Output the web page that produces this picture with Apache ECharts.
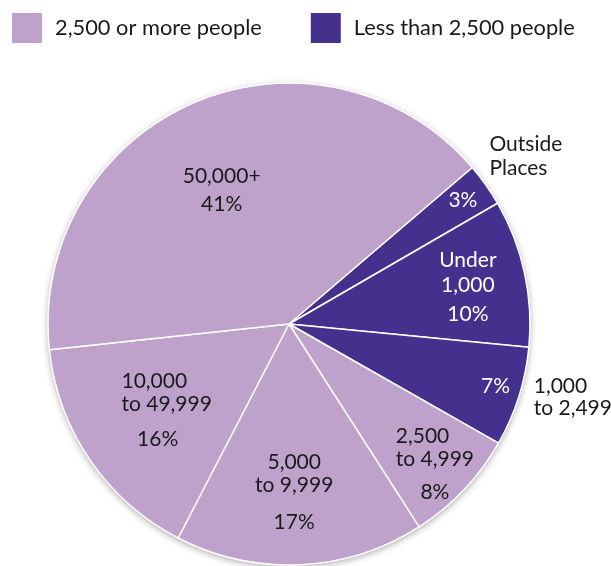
<!DOCTYPE html>
<html>
<head>
<meta charset="utf-8">
<script src="https://cdn.jsdelivr.net/npm/echarts@6/dist/echarts.min.js"></script>
<style>
html,body{margin:0;padding:0;background:#fff;}
#chart{width:611px;height:566px;}
</style>
</head>
<body>
<div id="chart"></div>
<script>
// ---- data ----
const categories = ['Outside Places', 'Under 1,000', '1,000 to 2,499', '2,500 to 4,999', '5,000 to 9,999', '10,000 to 49,999', '50,000+'];
const shares = [2.9, 9.9, 6.7, 7.7, 16.7, 15.7, 40.5];
const percentLabels = ['3%', '10%', '7%', '8%', '17%', '16%', '41%'];
const groupOf = [1, 1, 1, 0, 0, 0, 0];
const legendNames = ['2,500 or more people', 'Less than 2,500 people'];
const innerNameLines = [[], ['Under', '1,000'], [], ['2,500', 'to 4,999'], ['5,000', 'to 9,999'], ['10,000', 'to 49,999'], ['50,000+']];
const outerNameLines = [['Outside', 'Places'], [], ['1,000', 'to 2,499'], [], [], [], []];

// ---- layout / style ----
const groupColors = ['#BEA2CC', '#46308E'];
const textColorOn = ['#1a1a1a', '#ffffff'];
const CX = 289, CY = 324, R = 241;
const START = 40.5;
const FONT = 'Lato';
const LABEL_SIZE = 21;
// inner label anchor: [angle deg, radius fraction], name line height, percent line height, name align, percent right padding
const innerSpec = [
  [35.5, 0.874, 23, 23, 'center', 0],
  [11.15, 0.744, 25, 32, 'center', 0],
  [-16.88, 0.883, 23, 23, 'center', 0],
  [-44.94, 0.843, 23, 44, 'left', 0],
  [-88.3, 0.716, 23, 52, 'center', 0],
  [-143.13, 0.622, 23, 47, 'left', 18],
  [117.15, 0.600, 23, 33, 'center', 0]
];
const outerSpec = [
  [35.3, 1.192, 24],
  null,
  [-14.5, 1.204, 22],
  null, null, null, null
];

const total = shares.reduce((a, b) => a + b, 0);
const cum = [];
shares.reduce((acc, v, i) => { cum[i] = acc; return acc + v; }, 0);
const midAngle = i => START - 360 * (cum[i] + shares[i] / 2) / total;

const mainData = categories.map((c, i) => ({
  name: c,
  value: shares[i],
  itemStyle: { color: groupColors[groupOf[i]] }
}));

function overlaySeries(i, angle, frac, formatter, rich, color) {
  return {
    type: 'pie',
    silent: true,
    z: 5,
    center: [CX, CY],
    radius: [0, 2 * frac * R],
    startAngle: START + (angle - midAngle(i)),
    clockwise: true,
    avoidLabelOverlap: false,
    emphasis: { disabled: true },
    itemStyle: { color: 'rgba(0,0,0,0)', borderWidth: 0 },
    labelLine: { show: false },
    data: categories.map((c, j) => ({
      name: c,
      value: shares[j],
      label: j === i ? {
        show: true,
        position: 'inside',
        formatter: formatter,
        color: color,
        fontFamily: FONT,
        fontSize: LABEL_SIZE,
        rich: rich
      } : { show: false }
    }))
  };
}

const series = [];
// soft shadow behind the pie
series.push({
  type: 'pie', silent: true, z: 1,
  center: [CX, CY], radius: [0, R],
  label: { show: false }, labelLine: { show: false },
  emphasis: { disabled: true },
  itemStyle: { color: '#ffffff', shadowBlur: 7, shadowColor: 'rgba(0,0,0,0.35)', shadowOffsetX: 0, shadowOffsetY: 2 },
  data: [{ name: 'all', value: total }]
});
// main pie
series.push({
  type: 'pie', z: 2,
  center: [CX, CY], radius: [0, R],
  startAngle: START, clockwise: true,
  label: { show: false }, labelLine: { show: false },
  emphasis: { disabled: true },
  itemStyle: { borderColor: '#ffffff', borderWidth: 1.5 },
  data: mainData
});
// legend carrier
series.push({
  type: 'pie', silent: true, z: 0,
  center: [CX, CY], radius: [0, 0],
  label: { show: false }, labelLine: { show: false },
  data: legendNames.map((n, g) => ({ name: n, value: 0, itemStyle: { color: groupColors[g] } }))
});
// inner labels
categories.forEach((c, i) => {
  const s = innerSpec[i];
  const lines = innerNameLines[i].map(t => '{n|' + t + '}');
  lines.push('{p|' + percentLabels[i] + '}');
  const rich = {
    n: { fontFamily: FONT, fontSize: LABEL_SIZE, lineHeight: s[2], align: s[4], color: textColorOn[groupOf[i]] },
    p: { fontFamily: FONT, fontSize: LABEL_SIZE, lineHeight: s[3], align: 'center', padding: [0, s[5], 0, 0], color: textColorOn[groupOf[i]] }
  };
  series.push(overlaySeries(i, s[0], s[1], lines.join('\n'), rich, textColorOn[groupOf[i]]));
});
// outer name labels
categories.forEach((c, i) => {
  const s = outerSpec[i];
  if (!s) return;
  const lines = outerNameLines[i].map(t => '{o|' + t + '}');
  const rich = { o: { fontFamily: FONT, fontSize: LABEL_SIZE, lineHeight: s[2], align: 'left', color: '#1a1a1a' } };
  series.push(overlaySeries(i, s[0], s[1], lines.join('\n'), rich, '#1a1a1a'));
});

const chart = echarts.init(document.getElementById('chart'), null, { renderer: 'canvas' });
chart.setOption({
  animation: false,
  backgroundColor: '#ffffff',
  legend: {
    data: legendNames,
    left: 12, top: 13,
    padding: 0,
    itemWidth: 30, itemHeight: 30,
    itemGap: 49,
    icon: 'rect',
    selectedMode: false,
    textStyle: { fontFamily: FONT, fontSize: 21.8, color: '#1a1a1a', padding: [4, 0, 0, 8] }
  },
  series: series
});
</script>
</body>
</html>
